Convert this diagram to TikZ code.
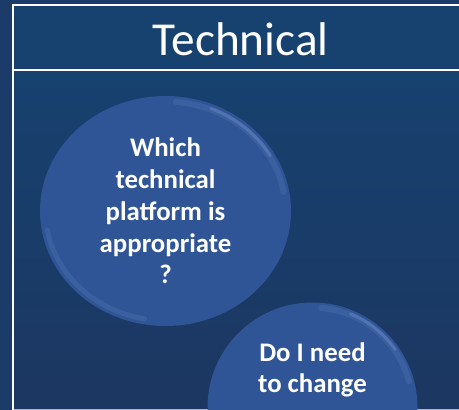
\documentclass[tikz,border=0pt]{standalone}
\usepackage{fontspec}
\setmainfont{Carlito}
\usetikzlibrary{shapes.geometric, positioning}

\definecolor{pagebg}{HTML}{1B3C68}
\definecolor{headbg}{HTML}{17416F}
\definecolor{bodytop}{HTML}{17416F}
\definecolor{bodybot}{HTML}{1C3761}
\definecolor{bubblefill}{HTML}{2F5597}
\definecolor{rimlight}{HTML}{86A2D8}
\definecolor{edgegray}{HTML}{A9B9CE}

\begin{document}
\begin{tikzpicture}[x=1pt,y=1pt,
    bubble/.style={ellipse, fill=bubblefill, inner sep=0pt, text=white, align=center,
        font=\bfseries\fontsize{26.8}{31.7}\selectfont},
    rim/.style={rimlight, line cap=round}]
    \useasboundingbox (0,0) rectangle (459,410);
    \fill[pagebg] (0,0) rectangle (459,410);

    % frame with header
    \shade[top color=bodytop, bottom color=bodybot] (13,0) rectangle (468,339.5);
    \fill[headbg] (13,339.5) rectangle (468,404.5);
    \draw[edgegray, line width=1pt] (13,0.5) -- (468,0.5);
    \draw[white, line width=2pt] (13,0) -- (13,404.5) -- (468,404.5);
    \draw[white, line width=2pt] (13,339.5) -- (468,339.5);
    \node[text=white, font=\fontsize{47.3}{56}\selectfont, anchor=base] (title) at (240.7,354) {Technical};

    % questions
    \node[bubble, minimum width=251pt, minimum height=230pt] (q1) at (165.5,199) {Which\\technical\\platform is\\appropriate\\?};
    \draw[rim, line width=6pt, opacity=.15] (q1.center) ++(10:120pt and 109.5pt) arc[start angle=10, end angle=85, x radius=120pt, y radius=109.5pt];
    \draw[rim, line width=3pt, opacity=.3] (q1.center) ++(30:121pt and 110.5pt) arc[start angle=30, end angle=68, x radius=121pt, y radius=110.5pt];
    \draw[rim, line width=5pt, opacity=.15] (q1.center) ++(190:120pt and 109.5pt) arc[start angle=190, end angle=260, x radius=120pt, y radius=109.5pt];

    \node[bubble, minimum width=210pt, minimum height=210pt] (q2) at (312.5,2.5) {};
    \draw[rim, line width=6pt, opacity=.15] (q2.center) ++(15:100pt) arc[start angle=15, end angle=85, radius=100pt];
    \draw[rim, line width=3pt, opacity=.3] (q2.center) ++(35:101pt) arc[start angle=35, end angle=68, radius=101pt];
    \node[text=white, align=center, font=\bfseries\fontsize{26.8}{31.3}\selectfont, anchor=base] (q2text) at (312.5,17) {Do I need\\to change};
\end{tikzpicture}
\end{document}
